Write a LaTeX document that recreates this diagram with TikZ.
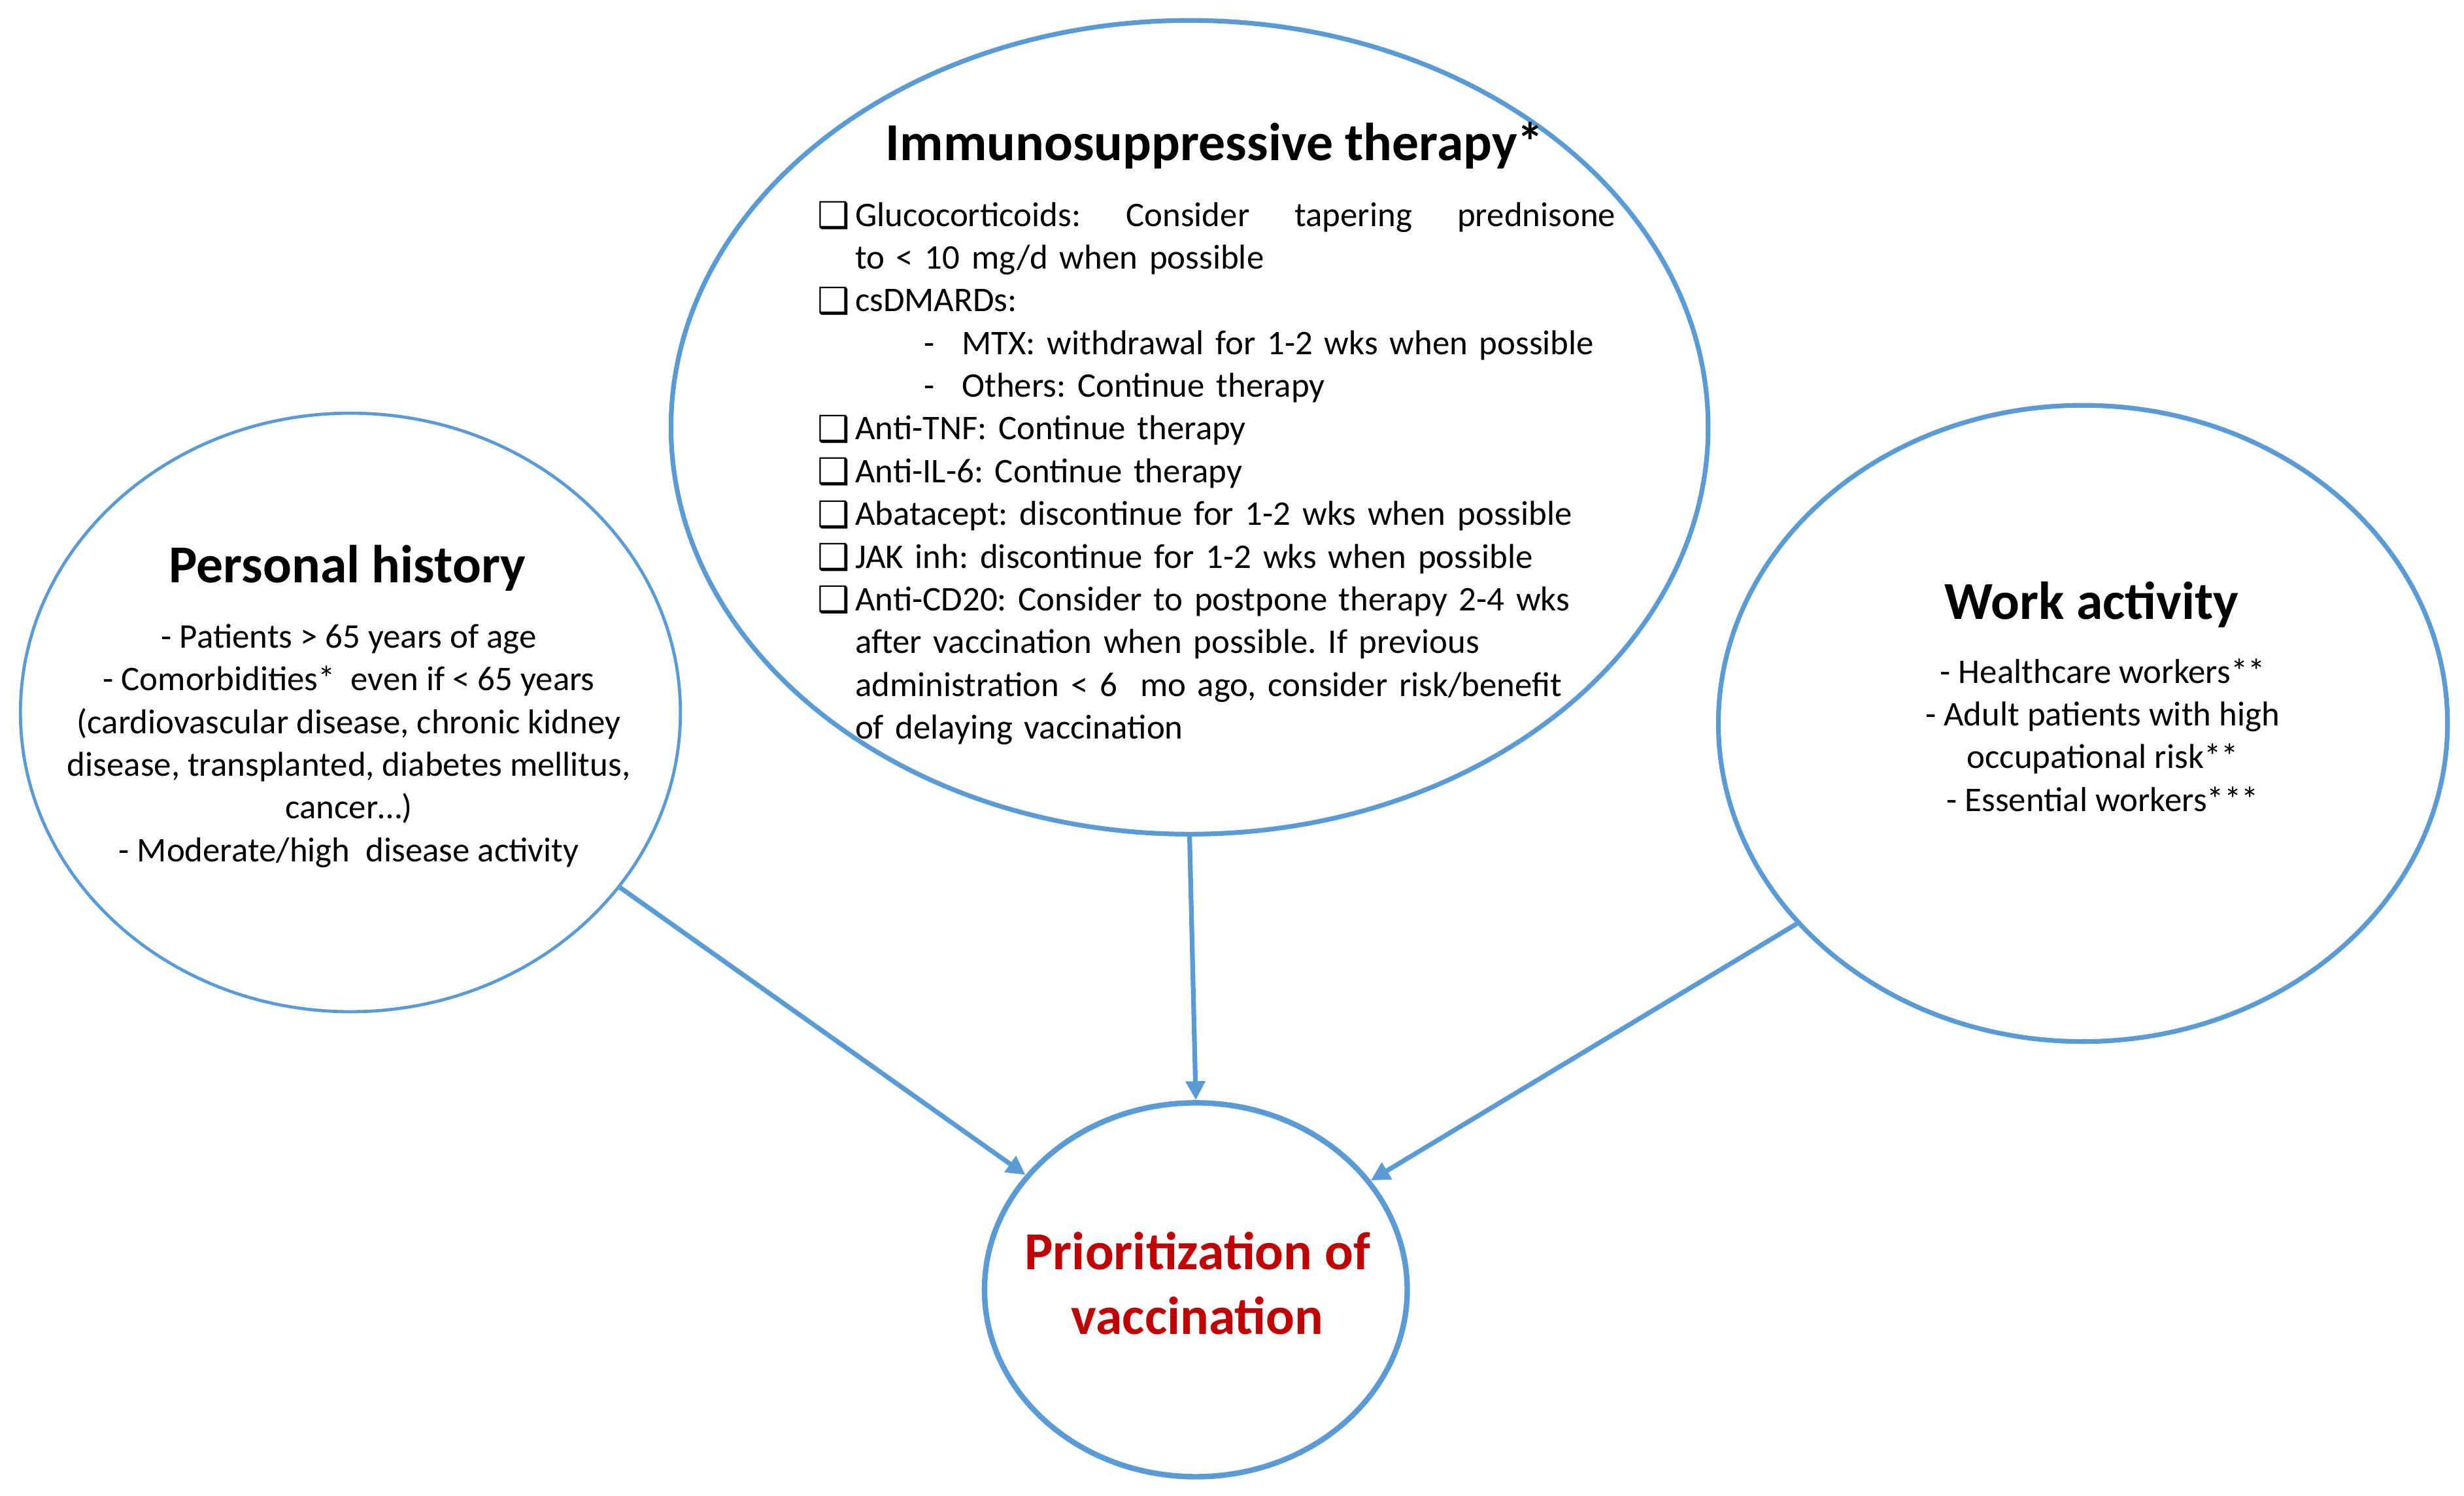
\documentclass[tikz,border=0pt]{standalone}
\usepackage{fontspec}
\setmainfont{Carlito}
\newfontfamily\symfont{DejaVu Sans Bold}
\usetikzlibrary{shapes.geometric,arrows.meta}
\definecolor{ringblue}{RGB}{91,155,213}
\definecolor{prioRed}{RGB}{192,0,0}
\newcommand{\bx}{\makebox[24pt][l]{\raisebox{-1pt}{\symfont\fontsize{23}{20}\selectfont ❑}}}
\newcommand{\ind}{\hspace*{24pt}}
\newcommand{\subb}{\makebox[92pt][l]{\hspace*{68pt}-}}
\frenchspacing
\begin{document}
\begin{tikzpicture}[x=1pt,y=-1pt,
  ring/.style={draw=ringblue, ellipse, inner sep=0pt, line width=3pt},
  conn/.style={draw=ringblue, line width=3pt, -{Triangle[length=12pt,width=12pt]}},
  ttl/.style={font=\fontsize{34}{40}\selectfont\bfseries, inner sep=0pt},
  body/.style={font=\fontsize{22}{27.2}\selectfont, inner sep=0pt, align=center},
]
\useasboundingbox (0,0) rectangle (1568,952);
% ellipses
\node[ring, minimum width=660pt, minimum height=518pt] (imm) at (757,272) {};
\node[ring, line width=2pt, minimum width=420pt, minimum height=381pt] (pers) at (223,453.5) {};
\node[ring, minimum width=464pt, minimum height=405pt] (work) at (1325.5,460.5) {};
\node[ring, line width=3.5pt, minimum width=269pt, minimum height=238pt] (prio) at (761,821) {};
% titles
\node[ttl, anchor=base] (immt) at (773,102) {Immunosuppressive therapy*};
\node[ttl, anchor=base] (perst) at (221,371) {Personal history};
\node[ttl, anchor=base] (workt) at (1331,394) {Work activity};
% immuno list
\node[font=\fontsize{22}{27.2}\selectfont, inner sep=0pt, anchor=north west, text width=508pt, align=left] (imml) at (520,128) {%
\bx Glucocorticoids:\hfill Consider\hfill tapering\hfill prednisone\\
\ind to < 10 mg/d when possible\\
\bx csDMARDs:\\
\subb MTX: withdrawal for 1-2 wks when possible\\
\subb Others: Continue therapy\\
\bx Anti-TNF: Continue therapy\\
\bx Anti-IL-6: Continue therapy\\
\bx Abatacept: discontinue for 1-2 wks when possible\\
\bx JAK inh: discontinue for 1-2 wks when possible\\
\bx Anti-CD20: Consider to postpone therapy 2-4 wks\\
\ind after vaccination when possible. If previous\\
\ind administration < 6 \ mo ago, consider risk/benefit\\
\ind of delaying vaccination};
% personal list
\node[body, anchor=north] (persl) at (222,397) {%
- Patients > 65 years of age\\
- Comorbidities* \ even if < 65 years\\
(cardiovascular disease, chronic kidney\\
disease, transplanted, diabetes mellitus,\\
cancer…)\\
- Moderate/high \ disease activity};
% work list
\node[body, anchor=north] (workl) at (1338,419) {%
- Healthcare workers**\\
- Adult patients with high\\
occupational risk**\\
- Essential workers***};
% priority text
\node[font=\fontsize{34}{41}\selectfont\bfseries, text=prioRed, align=center, inner sep=0pt] (priot) at (762,817) {Prioritization of\\vaccination};
% connectors
\draw[conn] (pers.-33.2) -- (prio.146.6);
\draw[conn] (imm.south) -- (prio.north);
\draw[conn] (work.215.1) -- (prio.32.3);
\end{tikzpicture}
\end{document}
